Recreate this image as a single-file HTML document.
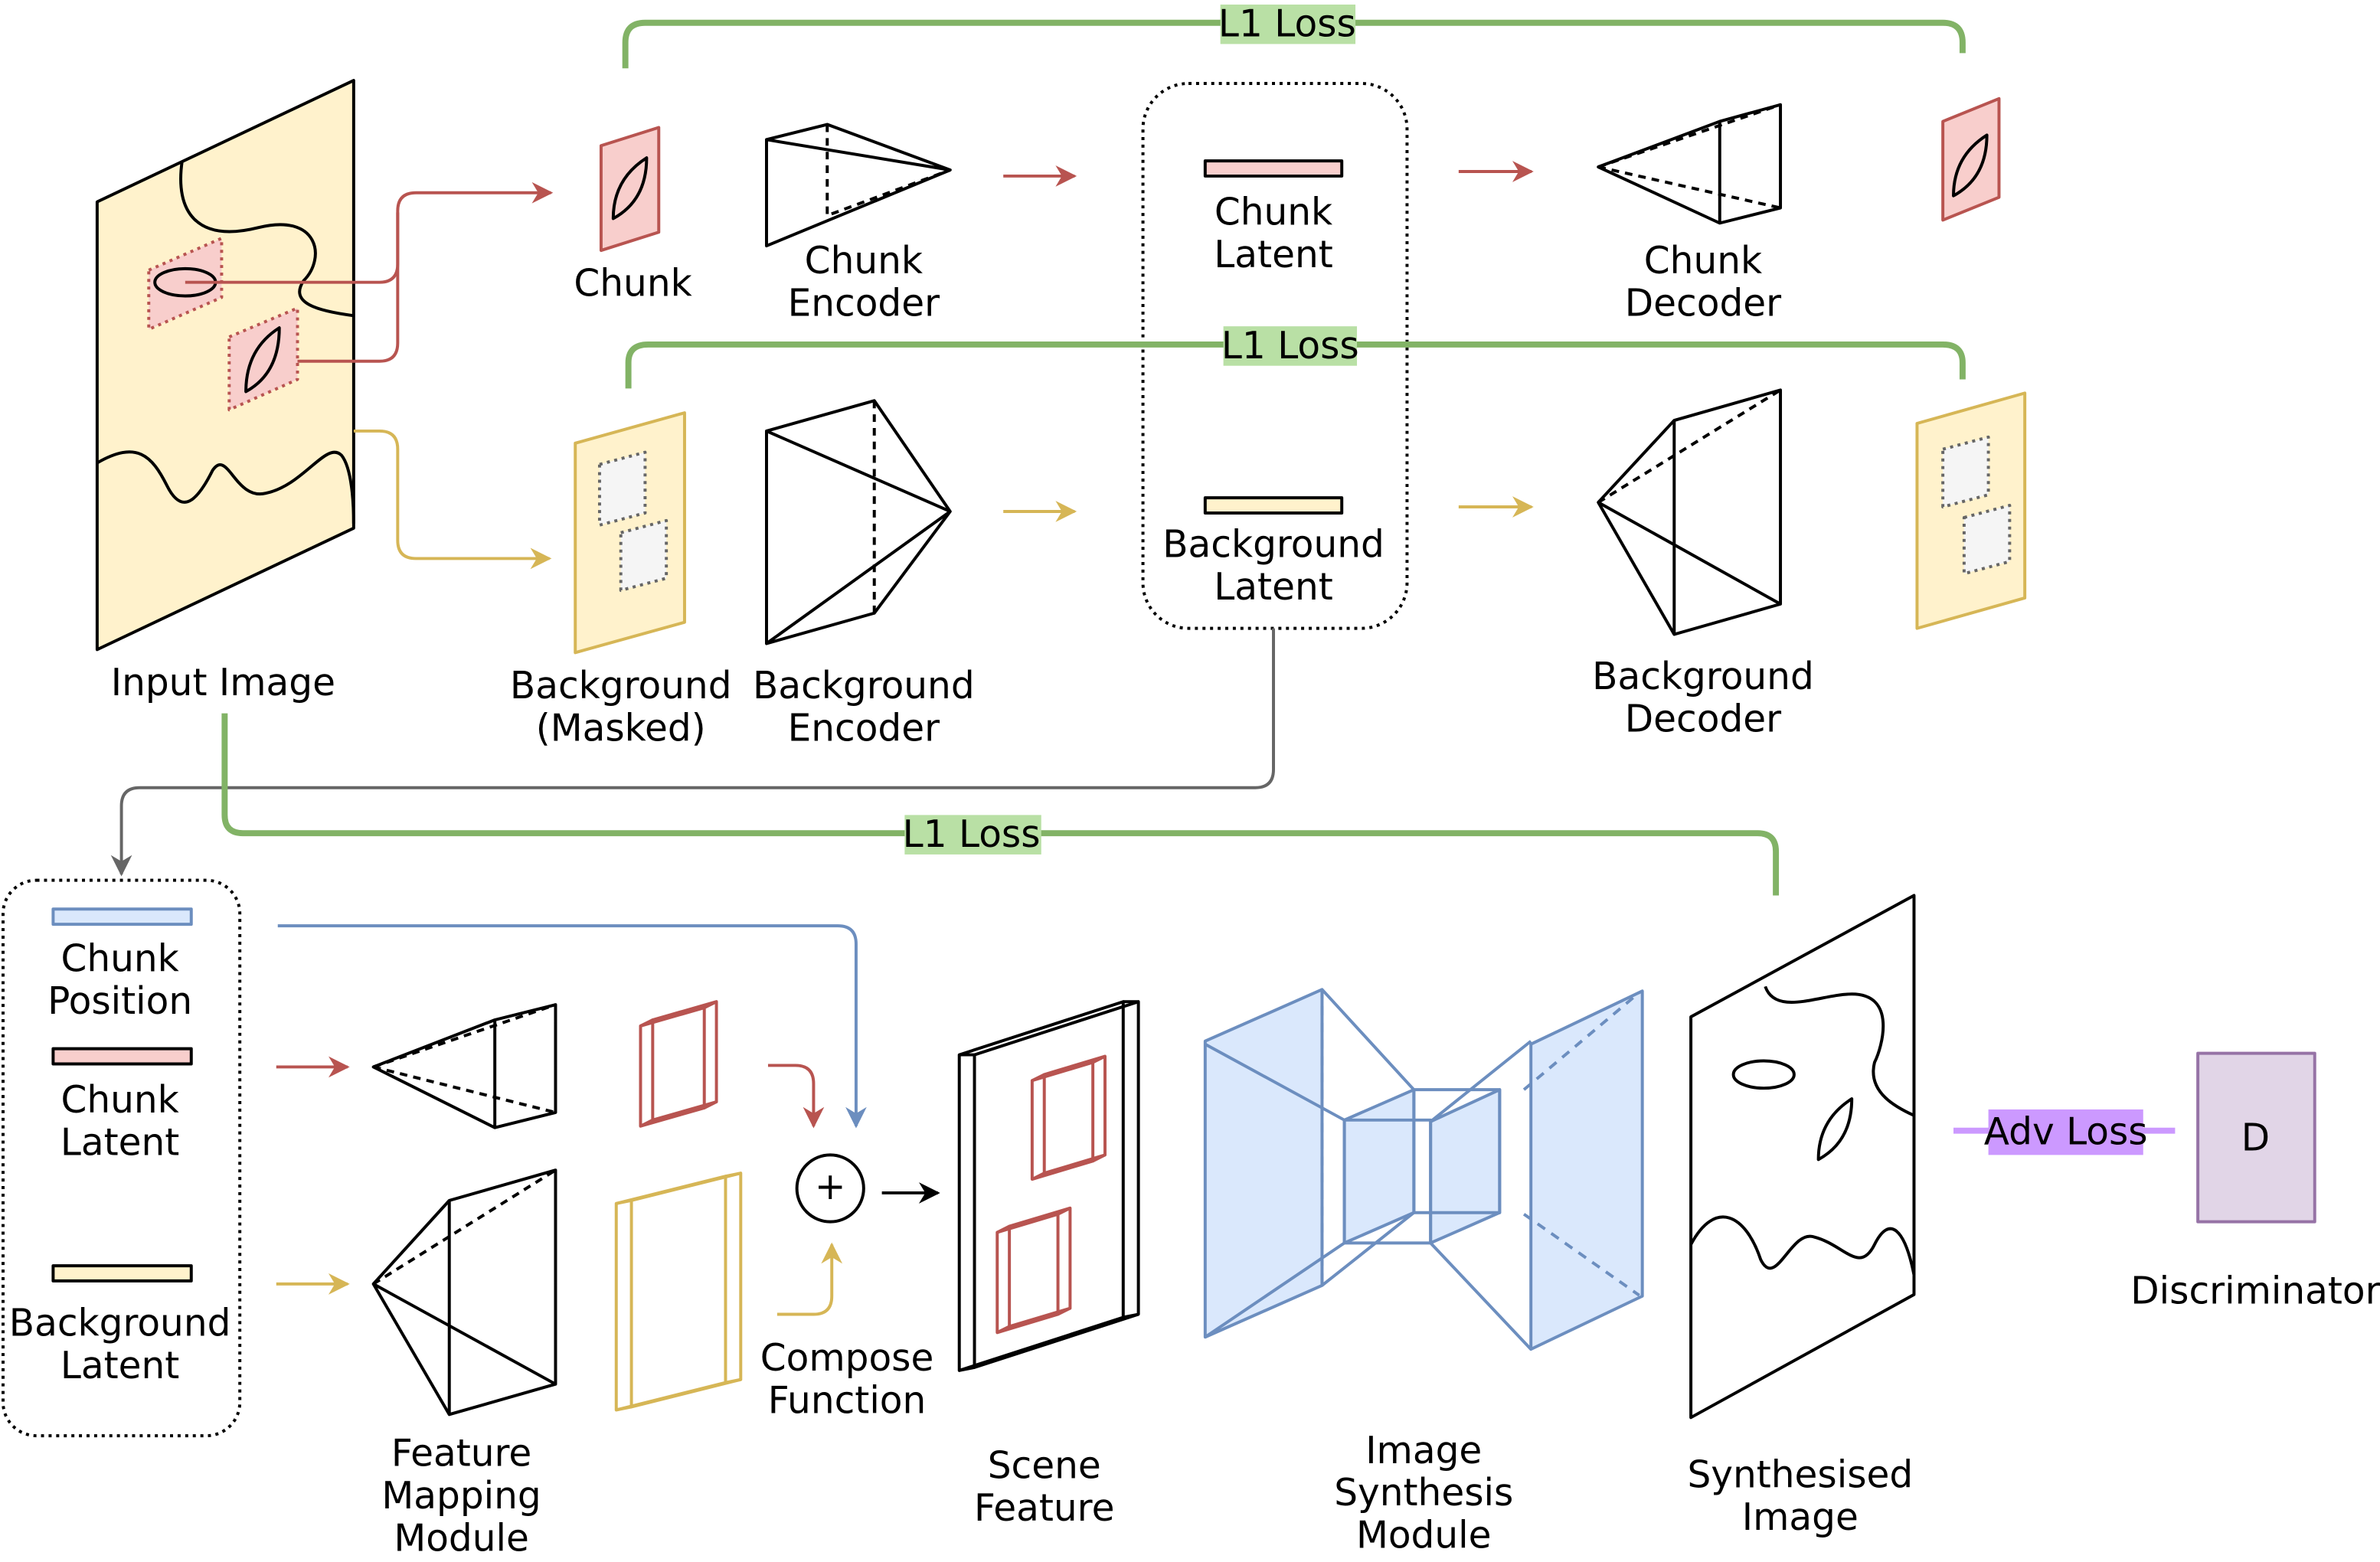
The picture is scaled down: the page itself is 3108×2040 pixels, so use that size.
<!DOCTYPE html>
<html><head><meta charset="utf-8"><style>
html,body{margin:0;padding:0;background:#fff;}
svg{display:block;width:3108px;height:2040px;}
text{font-family:"DejaVu Sans","Liberation Sans",sans-serif;font-size:24.5px;text-anchor:middle;fill:#000;}
</style></head><body>
<svg viewBox="0 0 1568 1029.2" xmlns="http://www.w3.org/2000/svg">
<defs>
<marker id="ar" viewBox="0 0 10 10" refX="9" refY="5" markerWidth="7" markerHeight="7" orient="auto"><path d="M0,0 L10,5 L0,10 L3,5 Z" fill="#b85450"/></marker>
<marker id="ay" viewBox="0 0 10 10" refX="9" refY="5" markerWidth="7" markerHeight="7" orient="auto"><path d="M0,0 L10,5 L0,10 L3,5 Z" fill="#d6b656"/></marker>
<marker id="ab" viewBox="0 0 10 10" refX="9" refY="5" markerWidth="7" markerHeight="7" orient="auto"><path d="M0,0 L10,5 L0,10 L3,5 Z" fill="#6c8ebf"/></marker>
<marker id="ag" viewBox="0 0 10 10" refX="9" refY="5" markerWidth="7" markerHeight="7" orient="auto"><path d="M0,0 L10,5 L0,10 L3,5 Z" fill="#666"/></marker>
<marker id="ak" viewBox="0 0 10 10" refX="9" refY="5" markerWidth="7" markerHeight="7" orient="auto"><path d="M0,0 L10,5 L0,10 L3,5 Z" fill="#000"/></marker>
</defs>
<g fill="none" stroke-width="2" stroke-linejoin="round">
<polygon points="64,133 233,53 233,348 64,428" fill="#fff2cc" stroke="#000"/>
<path d="M120,106 C115,140 130,160 170,150 C210,140 215,170 200,185 C190,200 210,205 233,208" stroke="#000"/>
<path d="M64,305 C90,290 100,300 110,320 C120,340 130,330 140,310 C150,295 155,330 175,325 C200,320 215,290 225,300 C233,310 233,340 233,345" stroke="#000"/>
<polygon points="98,178 146,157 146,196 98,217" fill="#f8cecc" stroke="#b85450" stroke-dasharray="2,3"/>
<ellipse cx="122" cy="186" rx="20" ry="9" stroke="#000"/>
<polygon points="151,222 196,203 196,250 151,270" fill="#f8cecc" stroke="#b85450" stroke-dasharray="2,3"/>
<path d="M162,258 Q162,230 184,216 Q184,246 162,258 Z" stroke="#000"/>
<path d="M122,186 H250 Q262,186 262,174 V139 Q262,127 274,127 H363" stroke="#b85450" marker-end="url(#ar)"/>
<path d="M196,238 H250 Q262,238 262,226 V140" stroke="#b85450"/>
<path d="M233,284 H250 Q262,284 262,296 V356 Q262,368 274,368 H362" stroke="#d6b656" marker-end="url(#ay)"/>
<polygon points="396,96 434,84 434,153 396,165" fill="#f8cecc" stroke="#b85450"/>
<path d="M404,144 Q404,118 426,104 Q426,132 404,144 Z" stroke="#000"/>
<path d="M505,92 L545,82 L626,112 L505,162 Z M505,92 L626,112" stroke="#000"/>
<path d="M545,82 V142 L626,112" stroke="#000" stroke-dasharray="5,4"/>
<path d="M661,116 H708" stroke="#b85450" marker-end="url(#ar)"/>
<rect x="753" y="55" width="174" height="359" rx="30" stroke="#000" stroke-dasharray="2,3"/>
<rect x="794" y="106" width="90" height="10" fill="#f8cecc" stroke="#000"/>
<path d="M961,113 H1009" stroke="#b85450" marker-end="url(#ar)"/>
<path d="M1053,110 L1133,80 L1173,69 L1173,137 L1133,147 Z M1133,80 V147" stroke="#000"/>
<path d="M1053,110 L1173,69 M1053,110 L1173,137" stroke="#000" stroke-dasharray="5,4"/>
<polygon points="1280,80 1317,65 1317,130 1280,145" fill="#f8cecc" stroke="#b85450"/>
<path d="M1287,129 Q1287,103 1309,89 Q1309,117 1287,129 Z" stroke="#000"/>
<path d="M412,45 V28 Q412,15 425,15 H1280 Q1293,15 1293,28 V35" stroke="#82b366" stroke-width="4"/>
<path d="M414,256 V239 Q414,227 427,227 H1280 Q1293,227 1293,239 V250" stroke="#82b366" stroke-width="4"/>
<polygon points="379,292 451,272 451,410 379,430" fill="#fff2cc" stroke="#d6b656"/>
<polygon points="395,306 425,298 425,338 395,346" fill="#f5f5f5" stroke="#666" stroke-dasharray="2,3"/>
<polygon points="409,351 439,343 439,381 409,389" fill="#f5f5f5" stroke="#666" stroke-dasharray="2,3"/>
<path d="M505,284 L576,264 L626,337 L576,404 L505,424 Z M505,284 L626,337 M505,424 L626,337" stroke="#000"/>
<path d="M576,264 V404" stroke="#000" stroke-dasharray="5,4"/>
<path d="M661,337 H708" stroke="#d6b656" marker-end="url(#ay)"/>
<rect x="794" y="328" width="90" height="10" fill="#fff2cc" stroke="#000"/>
<path d="M961,334 H1009" stroke="#d6b656" marker-end="url(#ay)"/>
<path d="M1053,331 L1103,277 L1173,257 L1173,398 L1103,418 Z M1103,277 V418 M1053,331 L1173,398" stroke="#000"/>
<path d="M1053,331 L1173,257" stroke="#000" stroke-dasharray="5,4"/>
<polygon points="1263,279 1334,259 1334,394 1263,414" fill="#fff2cc" stroke="#d6b656"/>
<polygon points="1280,296 1310,288 1310,326 1280,334" fill="#f5f5f5" stroke="#666" stroke-dasharray="2,3"/>
<polygon points="1294,341 1324,333 1324,370 1294,378" fill="#f5f5f5" stroke="#666" stroke-dasharray="2,3"/>
<path d="M839,414 V507 Q839,519 827,519 H92 Q80,519 80,531 V576" stroke="#666" marker-end="url(#ag)"/>
<path d="M148,470 V537 Q148,549 160,549 H1158 Q1170,549 1170,561 V590" stroke="#82b366" stroke-width="4"/>
<rect x="2" y="580" width="156" height="366" rx="22" stroke="#000" stroke-dasharray="2,3"/>
<rect x="35" y="599" width="91" height="10" fill="#dae8fc" stroke="#6c8ebf"/>
<rect x="35" y="691" width="91" height="10" fill="#f8cecc" stroke="#000"/>
<rect x="35" y="834" width="91" height="10" fill="#fff2cc" stroke="#000"/>
<path d="M182,703 H229" stroke="#b85450" marker-end="url(#ar)"/>
<path d="M182,846 H229" stroke="#d6b656" marker-end="url(#ay)"/>
<path d="M183,610 H552 Q564,610 564,622 V742" stroke="#6c8ebf" marker-end="url(#ab)"/>
<path d="M246,703 L326,672 L366,662 L366,733 L326,743 Z M326,672 V743" stroke="#000"/>
<path d="M246,703 L366,662 M246,703 L366,733" stroke="#000" stroke-dasharray="5,4"/>
<path d="M246,846 L296,791 L366,771 L366,912 L296,932 Z M296,791 V932 M246,846 L366,912" stroke="#000"/>
<path d="M246,846 L366,771" stroke="#000" stroke-dasharray="5,4"/>
<g stroke="#b85450"><polygon points="422,676 464,664 464,730 422,742"/><polygon points="430,672 472,660 472,726 430,738"/><path d="M422,676 L430,672 M464,664 L472,660 M464,730 L472,726 M422,742 L430,738"/></g>
<g stroke="#d6b656"><polygon points="406,793 478,775 478,911 406,929"/><polygon points="416,791 488,773 488,909 416,927"/><path d="M406,793 L416,791 M478,775 L488,773 M478,911 L488,909 M406,929 L416,927"/></g>
<path d="M506,702 H524 Q536,702 536,714 V742" stroke="#b85450" marker-end="url(#ar)"/>
<path d="M512,866 H536 Q548,866 548,854 V820" stroke="#d6b656" marker-end="url(#ay)"/>
<circle cx="547" cy="783" r="22" stroke="#000"/>
<path d="M581,786 H618" stroke="#000" marker-end="url(#ak)"/>
<g stroke="#000"><polygon points="632,695 740,660 740,868 632,903" fill="#fff"/><polygon points="642,695 750,660 750,866 642,901"/><path d="M632,695 L642,695 M740,660 L750,660 M740,868 L750,866 M632,903 L642,901"/></g>
<g stroke="#b85450"><polygon points="680,712 720,700 720,765 680,777"/><polygon points="688,708 728,696 728,761 688,773"/><path d="M680,712 L688,708 M720,700 L728,696 M720,765 L728,761 M680,777 L688,773"/>
<polygon points="657,812 697,800 697,866 657,878"/><polygon points="665,808 705,796 705,862 665,874"/><path d="M657,812 L665,808 M697,800 L705,796 M697,866 L705,862 M657,878 L665,874"/></g>
<!-- image synthesis -->
<g stroke="#6c8ebf">
<polygon points="794,686 871,652 871,847 794,881" fill="#dae8fc"/>
<path d="M871,652 V847" stroke-dasharray="6,5"/>
<path d="M871,652 L931.5,718 M794,688 L885.7,738 M794,881 L885.7,819 M871,847 L931.5,799"/>
<polygon points="885.7,738 931.5,718 931.5,799 885.7,819" fill="#dae8fc"/>
<polygon points="942.5,739 988,718 988,799 942.5,819" fill="#dae8fc"/>
<path d="M931.5,718 H988 V799 H931.5 Z M885.7,738 H942.5 V819 H885.7 Z"/>
<path d="M942.5,739 L1008.6,686 M942.5,819 L1008.6,889"/>
<polygon points="1008.6,688 1082,653 1082,854 1008.6,889" fill="#dae8fc"/>
<path d="M1004,718 L1080,654 M1004,800 L1080,853.5" stroke-dasharray="6,5"/>
</g>
<polygon points="1114,670 1261,590 1261,853 1114,934" fill="#fff" stroke="#000"/>
<path d="M1163,650 C1170,670 1200,655 1220,655 C1250,655 1240,690 1235,700 C1230,720 1250,730 1261,735" stroke="#000"/>
<ellipse cx="1162" cy="708" rx="20" ry="9" stroke="#000"/>
<path d="M1198,764 Q1198,738 1220,724 Q1220,752 1198,764 Z" stroke="#000"/>
<path d="M1114,820 C1130,790 1150,800 1160,830 C1170,850 1180,810 1195,815 C1215,820 1225,840 1235,820 C1245,800 1255,810 1261,840" stroke="#000"/>
<path d="M1287,745 H1433" stroke="#cc99ff" stroke-width="4"/>
<rect x="1448" y="694" width="77" height="111" fill="#e1d5e7" stroke="#9673a6"/>
</g>
<rect x="804" y="3" width="89" height="26" fill="#b9e0a5"/>
<rect x="806" y="215" width="88" height="26" fill="#b9e0a5"/>
<rect x="596" y="537" width="90" height="26" fill="#b9e0a5"/>
<rect x="1310" y="731" width="102" height="30" fill="#cc99ff"/>
<text x="848" y="24">L1 Loss</text>
<text x="850" y="236">L1 Loss</text>
<text x="640" y="558">L1 Loss</text>
<text x="1361" y="754">Adv Loss</text>
<text x="1486" y="758" font-size="21">D</text>
<text x="1486" y="859">Discriminator</text>
<text x="547" y="790" font-size="16">+</text>
<text x="147" y="458">Input Image</text>
<text x="417" y="195">Chunk</text>
<text x="569" y="180">Chunk</text><text x="569" y="208">Encoder</text>
<text x="839" y="148">Chunk</text><text x="839" y="176">Latent</text>
<text x="1122" y="180">Chunk</text><text x="1122" y="208">Decoder</text>
<text x="409" y="460">Background</text><text x="409" y="488">(Masked)</text>
<text x="569" y="460">Background</text><text x="569" y="488">Encoder</text>
<text x="839" y="367">Background</text><text x="839" y="395">Latent</text>
<text x="1122" y="454">Background</text><text x="1122" y="482">Decoder</text>
<text x="79" y="640">Chunk</text><text x="79" y="668">Position</text>
<text x="79" y="733">Chunk</text><text x="79" y="761">Latent</text>
<text x="79" y="880">Background</text><text x="79" y="908">Latent</text>
<text x="304" y="966">Feature</text><text x="304" y="994">Mapping</text><text x="304" y="1022">Module</text>
<text x="558" y="903">Compose</text><text x="558" y="931">Function</text>
<text x="688" y="974">Scene</text><text x="688" y="1002">Feature</text>
<text x="938" y="964">Image</text><text x="938" y="992">Synthesis</text><text x="938" y="1020">Module</text>
<text x="1186" y="980">Synthesised</text><text x="1186" y="1008">Image</text>
</svg>
</body></html>
